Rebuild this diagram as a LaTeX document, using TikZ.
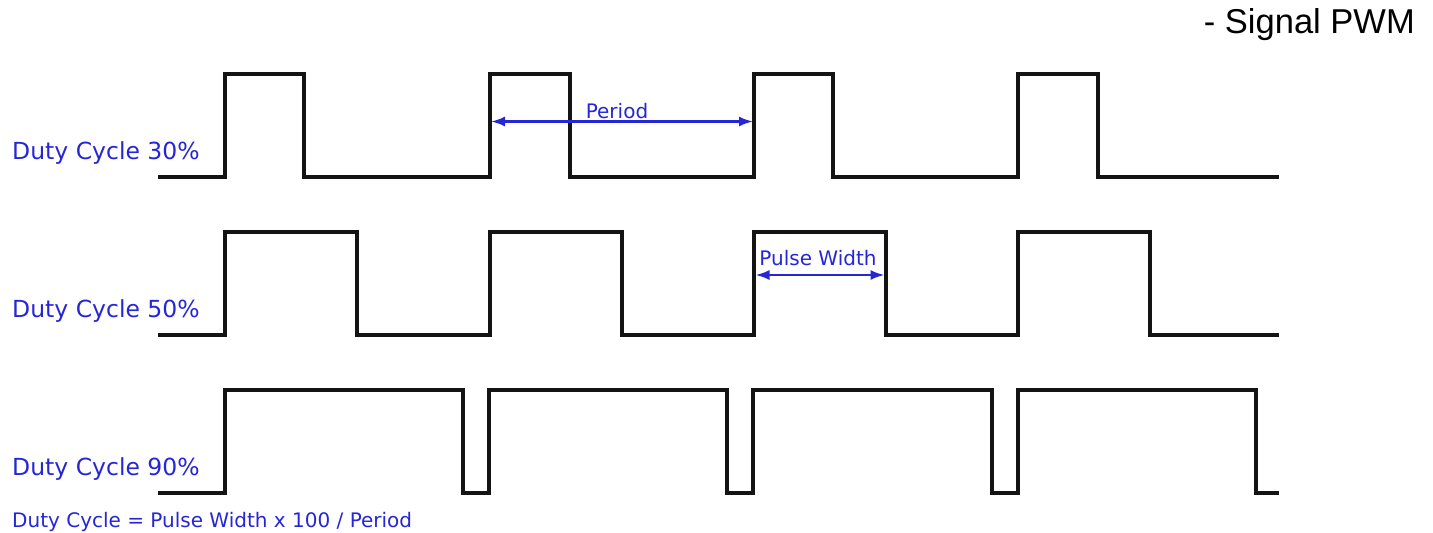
\documentclass[tikz,border=0pt]{standalone}
\usepackage{fontspec}
\setmainfont{Liberation Sans}
\newfontfamily\lblfont{DejaVu Sans}
\usetikzlibrary{arrows.meta}
\definecolor{pwmblue}{RGB}{38,38,215}
\definecolor{wavecol}{RGB}{20,20,20}
\begin{document}
\begin{tikzpicture}[x=1pt,y=-1pt,
  wave/.style={draw=wavecol, line width=3.3pt, line join=miter},
  dim/.style={draw=pwmblue, line width=2.2pt, {Latex[length=14pt,width=10pt]}-{Latex[length=14pt,width=10pt]}},
  lbl/.style={text=pwmblue, font=\lblfont\fontsize{23.5}{26}\selectfont, anchor=base west, inner sep=0pt},
  dimlbl/.style={text=pwmblue, font=\lblfont\fontsize{20}{22}\selectfont, anchor=base, inner sep=0pt},
  formula/.style={text=pwmblue, font=\lblfont\fontsize{20}{22}\selectfont, anchor=base west, inner sep=0pt},
  title/.style={text=black, font=\fontsize{34.5}{38}\selectfont, anchor=base east, inner sep=0pt}]
\useasboundingbox[fill=white] (0,0) rectangle (1433,533);

% title
\node[title] (title) at (1415,33) {- Signal PWM};

% waveforms
\draw[wave] (158,177) -| (225,74) -| (304,177) -| (490,74) -| (570,177) -| (754,74) -| (833,177) -| (1018,74) -| (1098,177) -- (1279,177);
\draw[wave] (158,335) -| (225,232) -| (357,335) -| (490,232) -| (622,335) -| (754,232) -| (886,335) -| (1018,232) -| (1150,335) -- (1279,335);
\draw[wave] (158,493) -| (225,390) -| (463,493) -| (489,390) -| (727,493) -| (753,390) -| (992,493) -| (1018,390) -| (1256,493) -- (1279,493);

% labels
\node[lbl] (d30) at (12,159) {Duty Cycle 30\%};
\node[lbl] (d50) at (12,317) {Duty Cycle 50\%};
\node[lbl] (d90) at (12,475) {Duty Cycle 90\%};
\node[formula] (form) at (12,527) {Duty Cycle = Pulse Width x 100 / Period};

% period dimension
\coordinate (pa) at (491,121.5);
\coordinate (pb) at (753,121.5);
\draw[dim] (pa) -- (pb);
\node[dimlbl] (plbl) at (617,118) {Period};

% pulse width dimension
\coordinate (wa) at (755.5,275);
\coordinate (wb) at (884.5,275);
\draw[dim] (wa) -- (wb);
\node[dimlbl] (wlbl) at (818,265) {Pulse Width};
\end{tikzpicture}
\end{document}
